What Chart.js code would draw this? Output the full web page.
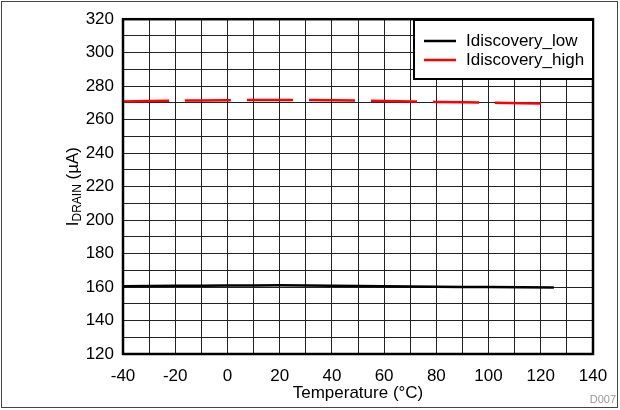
<!DOCTYPE html>
<html>
<head>
<meta charset="utf-8">
<script src="https://cdn.jsdelivr.net/npm/chart.js@4.4.0/dist/chart.umd.min.js"></script>
<style>
  html, body { margin: 0; padding: 0; background: #fff; }
  #wrap { width: 620px; height: 410px; }
</style>
</head>
<body>
<div id="wrap"><canvas id="drainChart" width="620" height="410"></canvas></div>
<script>
// Valores
const temperatures = [-40, -20, 0, 20, 40, 60, 80, 100, 125];
const idiscoveryLow = [160.5, 160.7, 160.9, 161.0, 160.8, 160.5, 160.2, 160.0, 159.7];
const idiscoveryHigh = [270.9, 271.3, 271.6, 271.8, 271.6, 271.1, 270.6, 270.1, 269.6];
const xTickLabels = [-40, -20, 0, 20, 40, 60, 80, 100, 120, 140];
const yTickLabels = [120, 140, 160, 180, 200, 220, 240, 260, 280, 300, 320];

const fontFamily = '"Liberation Sans", Arial, Helvetica, sans-serif';

function toPoints(values) {
    return temperatures.map((t, i) => ({ x: t, y: values[i] }));
}

// Títulos dos eixos, legenda e molduras
const extras = {
    id: 'extras',
    afterDraw(chart) {
        const c = chart.ctx;
        const a = chart.chartArea;
        c.save();

        // moldura da área do gráfico
        c.strokeStyle = '#000';
        c.lineWidth = 2.5;
        c.strokeRect(a.left, a.top, a.right - a.left, a.bottom - a.top);

        // moldura externa
        c.strokeStyle = '#444';
        c.lineWidth = 1;
        c.strokeRect(1.5, 1.5, 616, 406);

        // título do eixo x
        c.fillStyle = '#000';
        c.font = '17px ' + fontFamily;
        c.textAlign = 'center';
        c.textBaseline = 'middle';
        c.fillText('Temperature (°C)', (a.left + a.right) / 2, 393);

        // título do eixo y com subscrito
        c.save();
        c.translate(72, (a.top + a.bottom) / 2);
        c.rotate(-Math.PI / 2);
        c.textBaseline = 'alphabetic';
        c.textAlign = 'left';
        const big = '17px ' + fontFamily, small = '12px ' + fontFamily;
        c.font = big; const w1 = c.measureText('I').width;
        c.font = small; const w2 = c.measureText('DRAIN').width;
        c.font = big; const w3 = c.measureText(' (µA)').width;
        let x0 = -(w1 + w2 + w3) / 2;
        c.font = big; c.fillText('I', x0, 6);
        c.font = small; c.fillText('DRAIN', x0 + w1, 9);
        c.font = big; c.fillText(' (µA)', x0 + w1 + w2, 6);
        c.restore();

        // legenda
        const lx = 414, ly = 20, lw = a.right - 414, lh = 59;
        c.fillStyle = '#fff';
        c.fillRect(lx, ly, lw, lh);
        c.strokeStyle = '#000';
        c.lineWidth = 2;
        c.strokeRect(lx, ly, lw, lh);
        c.font = '17px ' + fontFamily;
        c.textAlign = 'left';
        c.textBaseline = 'middle';
        chart.data.datasets.forEach((ds, i) => {
            const yy = ly + 21 + i * 19;
            c.strokeStyle = ds.borderColor;
            c.lineWidth = 2.5;
            c.setLineDash([]);
            c.beginPath();
            c.moveTo(424, yy);
            c.lineTo(456, yy);
            c.stroke();
            c.fillStyle = '#000';
            c.fillText(ds.label, 466, yy);
        });

        // código da figura
        c.fillStyle = '#999';
        c.font = '11px ' + fontFamily;
        c.textAlign = 'right';
        c.fillText('D007', 616, 400);
        c.restore();
    }
};

const ctx = document.getElementById('drainChart').getContext('2d');
const drainChart = new Chart(ctx, {
    type: 'line',
    data: {
        datasets: [{
            label: 'Idiscovery_low',
            data: toPoints(idiscoveryLow),
            borderColor: '#000',
            borderWidth: 2.5,
            pointRadius: 0,
            tension: 0.3
        }, {
            label: 'Idiscovery_high',
            data: toPoints(idiscoveryHigh),
            borderColor: '#ff0000',
            borderWidth: 2.5,
            borderDash: [46, 16],
            pointRadius: 0,
            tension: 0.3
        }]
    },
    options: {
        responsive: false,
        animation: false,
        devicePixelRatio: 1,
        layout: { padding: { left: 0, top: 19, right: 27, bottom: 0 } },
        plugins: { legend: { display: false }, tooltip: { enabled: false } },
        scales: {
            x: {
                type: 'linear',
                min: -40, max: 140,
                afterFit: (s) => { s.height = 56; },
                afterBuildTicks: (s) => {
                    const t = [];
                    for (let v = -40; v <= 140; v += 10) t.push({ value: v });
                    s.ticks = t;
                },
                ticks: {
                    autoSkip: false,
                    maxRotation: 0,
                    padding: 12,
                    color: '#000',
                    font: { family: fontFamily, size: 17 },
                    callback: (v) => xTickLabels.includes(v) ? String(v) : ''
                },
                grid: { color: '#222', lineWidth: 1, drawTicks: false },
                border: { display: false }
            },
            y: {
                min: 120, max: 320,
                afterFit: (s) => { s.width = 123; },
                afterBuildTicks: (s) => {
                    const t = [];
                    for (let v = 120; v <= 320; v += 10) t.push({ value: v });
                    s.ticks = t;
                },
                ticks: {
                    autoSkip: false,
                    padding: 9,
                    color: '#000',
                    font: { family: fontFamily, size: 17 },
                    callback: (v) => yTickLabels.includes(v) ? String(v) : ''
                },
                grid: { color: '#222', lineWidth: 1, drawTicks: false },
                border: { display: false }
            }
        }
    },
    plugins: [extras]
});
</script>
</body>
</html>
